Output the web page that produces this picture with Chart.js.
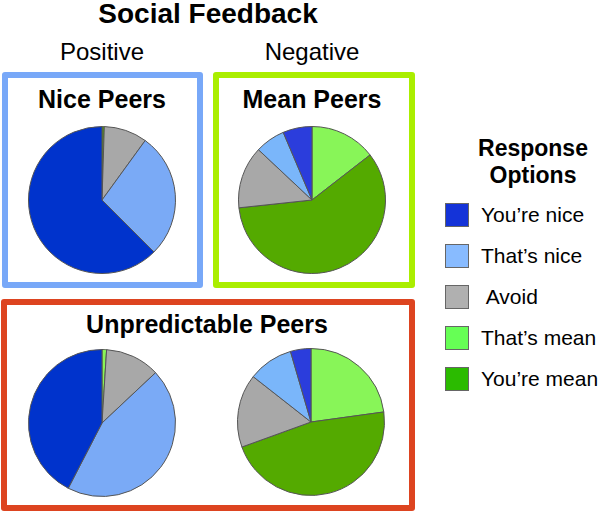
<!DOCTYPE html>
<html>
<head>
<meta charset="utf-8">
<script src="https://cdn.jsdelivr.net/npm/chart.js@4"></script>
<style>
  body { margin: 0; background: #fff; }
  #wrap { position: relative; width: 600px; height: 512px; font-family: "Liberation Sans", Arial, sans-serif; color: #000; }
  .txt { position: absolute; transform: translate(-50%, -50%); white-space: nowrap; }
  .box { position: absolute; box-sizing: border-box; border: 6px solid; border-radius: 3px; }
  canvas.pie { position: absolute; }
  .sw { position: absolute; width: 24px; height: 24px; box-sizing: border-box; border: 1px solid #666; }
  .lab { position: absolute; font-size: 21px; transform: translateY(-50%); white-space: pre; }
</style>
</head>
<body>
<div id="wrap">
  <div class="txt" style="left:208px;top:14px;font-size:28px;font-weight:bold">Social Feedback</div>
  <div class="txt" style="left:102px;top:52px;font-size:24px">Positive</div>
  <div class="txt" style="left:312px;top:52px;font-size:24px">Negative</div>

  <div class="box" style="left:2px;top:72px;width:201px;height:216px;border-color:#78a8f8"></div>
  <div class="box" style="left:213px;top:72px;width:202px;height:216px;border-color:#aaee00"></div>
  <div class="box" style="left:1px;top:299px;width:414px;height:212px;border-color:#dd4420"></div>

  <div class="txt" style="left:102px;top:99px;font-size:25px;font-weight:bold">Nice Peers</div>
  <div class="txt" style="left:312px;top:99px;font-size:25px;font-weight:bold">Mean Peers</div>
  <div class="txt" style="left:207px;top:324px;font-size:25px;font-weight:bold">Unpredictable Peers</div>

  <canvas class="pie" id="pieNice" width="148" height="148" style="left:28px;top:126px"></canvas>
  <canvas class="pie" id="pieMean" width="148" height="148" style="left:238px;top:126px"></canvas>
  <canvas class="pie" id="pieUnpPos" width="148" height="148" style="left:28px;top:349px"></canvas>
  <canvas class="pie" id="pieUnpNeg" width="148" height="148" style="left:237px;top:348px"></canvas>

  <div class="txt" style="left:533px;top:148px;font-size:23px;font-weight:bold">Response</div>
  <div class="txt" style="left:533px;top:175px;font-size:23px;font-weight:bold">Options</div>
  <div id="legend"></div>
</div>
<script>
// response options, in legend order
const categories = ['You\u2019re nice', 'That\u2019s nice', ' Avoid', 'That\u2019s mean', 'You\u2019re mean'];

// percent of responses, same order as categories
const nicePeers = [62.5, 27.5, 9.5, 0, 0.5];
const meanPeers = [6.4, 6.6, 13.7, 14.5, 58.8];
const unpredPositive = [42.4, 44.6, 12.0, 1.0, 0];
const unpredNegative = [4.5, 9.9, 16.1, 22.8, 46.6];

// slices go clockwise from 12 o'clock in this order
const sliceOrder = [3, 4, 2, 1, 0];

const swatchColors = ['#1433d8', '#88bbff', '#b0b0b0', '#66ff55', '#2bbb00'];
const pieColorsLeft = ['#0033cc', '#7aaaf6', '#a8a8a8', '#88f558', '#54aa00'];
const pieColorsRight = ['#2b3ddc', '#7ab6fa', '#a8a8a8', '#88f558', '#54aa00'];

function makePie(id, values, colors) {
  const ctx = document.getElementById(id).getContext('2d');
  new Chart(ctx, {
    type: 'pie',
    data: {
      labels: sliceOrder.map(i => categories[i]),
      datasets: [{
        data: sliceOrder.map(i => values[i]),
        backgroundColor: sliceOrder.map(i => colors[i]),
        borderColor: '#555',
        borderWidth: 1
      }]
    },
    options: {
      responsive: false,
      animation: false,
      plugins: { legend: { display: false }, tooltip: { enabled: false } }
    }
  });
}

makePie('pieNice', nicePeers, pieColorsLeft);
makePie('pieMean', meanPeers, pieColorsRight);
makePie('pieUnpPos', unpredPositive, pieColorsLeft);
makePie('pieUnpNeg', unpredNegative, pieColorsRight);

// legend
const legend = document.getElementById('legend');
categories.forEach((name, i) => {
  const top = 203 + i * 41;
  const sw = document.createElement('div');
  sw.className = 'sw';
  sw.style.left = '445px';
  sw.style.top = top + 'px';
  sw.style.background = swatchColors[i];
  legend.appendChild(sw);
  const lab = document.createElement('div');
  lab.className = 'lab';
  lab.style.left = '481px';
  lab.style.top = (top + 12) + 'px';
  lab.textContent = name;
  legend.appendChild(lab);
});
</script>
</body>
</html>
